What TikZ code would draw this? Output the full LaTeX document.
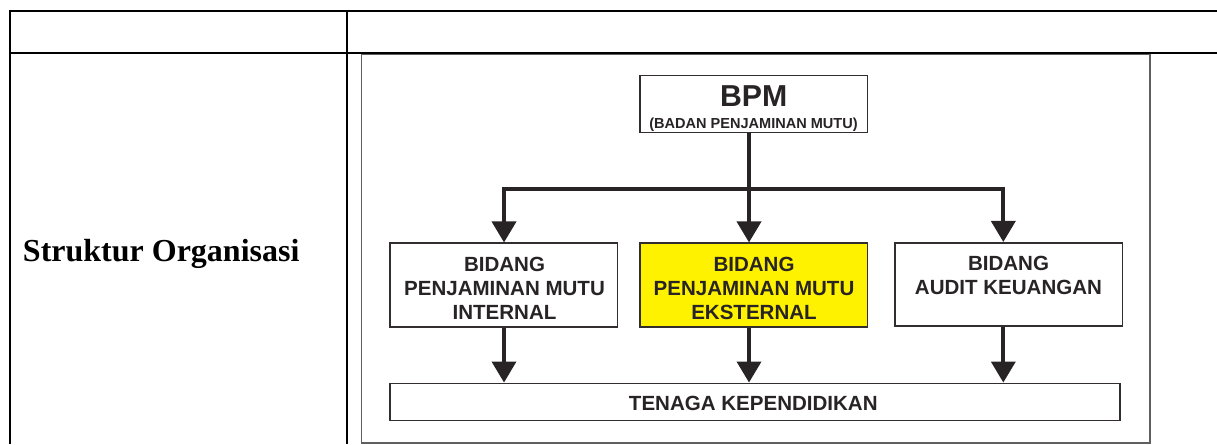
\documentclass[tikz,border=0pt]{standalone}
\usepackage{fontspec}
\setmainfont{Liberation Serif}
\setsansfont{Liberation Sans}
\usetikzlibrary{arrows.meta}
\definecolor{ink}{RGB}{40,36,37}
\definecolor{boxline}{RGB}{50,46,47}
\definecolor{framegray}{RGB}{95,95,95}
\definecolor{hiyellow}{RGB}{255,242,0}
\begin{document}
\begin{tikzpicture}[x=0.75pt,y=-0.75pt,
  tableline/.style={line width=1.5pt,black},
  frameline/.style={line width=0.8pt,draw=framegray},
  orgbox/.style={rectangle,draw=boxline,line width=1.2pt,fill=white,inner sep=0pt,
    minimum width=170.7pt,minimum height=62.6pt},
  boxtext/.style={inner sep=0pt,align=center,text=ink,
    font=\sffamily\bfseries\fontsize{15.4pt}{18pt}\selectfont},
  conn/.style={draw=ink,line width=2.8pt,line join=miter},
  arr/.style={conn,-{Triangle[length=15.75pt,width=18pt]}}
]
\useasboundingbox (0,0) rectangle (1217,444);

% image frame
\draw[frameline] (361.3,54) rectangle (1150,443);

% table lines
\draw[tableline] (10,11) -- (1217,11);
\draw[tableline] (10,53.3) -- (1217,53.3);
\draw[tableline] (10,10) -- (10,444);
\draw[tableline] (347,10) -- (347,444);

\node[anchor=base west,inner sep=0pt,font=\bfseries\fontsize{24pt}{28pt}\selectfont]
  (judul) at (22.7,261) {Struktur Organisasi};

% boxes
\node[orgbox,minimum height=42.5pt] (bpm) at (753.7,104) {};
\node[orgbox] (int) at (503.5,285) {};
\node[orgbox,fill=hiyellow] (eks) at (753.8,285) {};
\node[orgbox] (aud) at (1008.5,284.5) {};
\node[orgbox,minimum width=547.5pt,minimum height=28pt] (ten) at (755.2,402) {};

% texts
\node[boxtext,anchor=base,font=\sffamily\bfseries\fontsize{22.7pt}{26pt}\selectfont]
  (bpmT) at (753.7,106.7) {BPM};
\node[boxtext,anchor=base,font=\sffamily\bfseries\fontsize{10.9pt}{13pt}\selectfont]
  (bpmS) at (753.5,128.7) {(BADAN PENJAMINAN MUTU)};
\node[boxtext] (intT) at (504.5,288) {BIDANG\\PENJAMINAN MUTU\\INTERNAL};
\node[boxtext] (eksT) at (754,288) {BIDANG\\PENJAMINAN MUTU\\EKSTERNAL};
\node[boxtext] (audT) at (1008.5,275) {BIDANG\\AUDIT KEUANGAN};
\node[boxtext,anchor=base] (tenT) at (753.3,410.7) {TENAGA KEPENDIDIKAN};

% connector guides
\coordinate (cL) at (504,189);
\coordinate (cM) at (749,189);
\coordinate (cR) at (1003.3,189);

\draw[conn] (bpm.south -| cM) -- (cM);
\draw[arr] (cM) -- (eks.north -| cM);
\draw[arr] (cM) -| (int.north -| cL);
\draw[arr] (cM) -| (aud.north -| cR);

\draw[arr] (int.south -| cL) -- (ten.north -| cL);
\draw[arr] (eks.south -| cM) -- (ten.north -| cM);
\draw[arr] (aud.south -| cR) -- (ten.north -| cR);
\end{tikzpicture}
\end{document}
